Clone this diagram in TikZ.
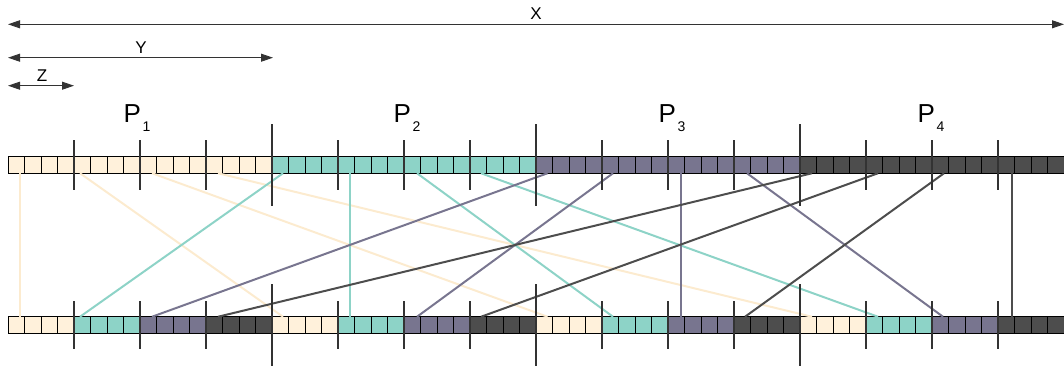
\documentclass[tikz,border=0pt]{standalone}
\usepackage{fontspec}
\setmainfont{Liberation Sans}
\usetikzlibrary{arrows.meta,calc}
\definecolor{c0}{HTML}{FFF1DB}
\definecolor{c1}{HTML}{8DD3C7}
\definecolor{c2}{HTML}{78758F}
\definecolor{c3}{HTML}{4D4D4D}
\definecolor{l0}{HTML}{FCEBCF}
\definecolor{l1}{HTML}{8DD3C7}
\definecolor{l2}{HTML}{78758F}
\definecolor{l3}{HTML}{4D4D4D}
\definecolor{tickcol}{HTML}{333333}
\begin{document}
\begin{tikzpicture}[x=1pt,y=-1pt,
  cell/.style={draw=black, line width=0.8pt, minimum width=16.5pt, minimum height=16.5pt, inner sep=0pt, outer sep=0pt},
  dim/.style={line width=0.9pt, draw=tickcol, {Triangle[length=12pt,width=8pt]}-{Triangle[length=12pt,width=8pt]}},
  dimlabel/.style={font=\fontsize{17}{20}\selectfont, inner sep=0pt, anchor=base},
  plabel/.style={font=\fontsize{26}{30}\selectfont, inner sep=0pt, anchor=base west},
  conn/.style={line width=2pt},
  tickmark/.style={line width=1.1pt, draw=tickcol}]
\useasboundingbox (0,0) rectangle (1064,367);

% dimension arrows
\coordinate (xs) at (8,24.3);
\coordinate (xe) at (1064,24.3);
\coordinate (ys) at (8,57.7);
\coordinate (ye) at (273,57.7);
\coordinate (zs) at (8,85.7);
\coordinate (ze) at (74,85.7);
\draw[dim] (xs) -- (xe);
\draw[dim] (ys) -- (ye);
\draw[dim] (zs) -- (ze);
\node[dimlabel] (lx) at (536,19) {X};
\node[dimlabel] (ly) at (141,53.5) {Y};
\node[dimlabel] (lz) at (42,81) {Z};

% partition labels
\newcommand{\psub}[1]{\raisebox{-9pt}{\fontsize{14}{16}\selectfont\hspace{1.5pt}#1}}
\node[plabel] (p1) at (123.5,122) {P\psub{1}};
\node[plabel] (p2) at (393.5,122) {P\psub{2}};
\node[plabel] (p3) at (658.5,122) {P\psub{3}};
\node[plabel] (p4) at (917.5,122) {P\psub{4}};

% cells
\foreach \i in {0,...,63}{
  \pgfmathtruncatemacro{\tp}{div(\i,16)}
  \pgfmathtruncatemacro{\bp}{mod(div(\i,4),4)}
  \node[cell, fill=c\tp] (t\i) at ({8+16.5*(\i+0.5)},165) {};
  \node[cell, fill=c\bp] (b\i) at ({8+16.5*(\i+0.5)},325) {};
}

% connectors
\foreach \a/\b/\c/\dt/\db in {
  0/0/0/3.75/3.75, 4/16/0/-2.25/2.75, 8/32/0/3.75/3.25, 12/48/0/3.75/3.75,
  16/4/1/2.75/-2.25, 20/20/1/3.75/3.75, 24/36/1/4.75/2.75, 28/52/1/2.75/3.75,
  32/8/2/3.25/3.75, 36/24/2/2.75/4.75, 40/40/2/4.75/4.75, 44/56/2/4.75/2.75,
  48/12/3/3.75/3.75, 52/28/3/3.75/2.75, 56/44/3/3.75/2.75, 60/60/3/5.75/5.75}{
  \draw[conn, draw=l\c] ([xshift=\dt pt]t\a.south) -- ([xshift=\db pt]b\b.north);
}

% tick marks
\foreach \k in {4,8,12,20,24,28,36,40,44,52,56,60}{
  \draw[tickmark] ($(t\k.west)+(0,-25)$) -- ($(t\k.west)+(0,25)$);
  \draw[tickmark] ($(b\k.west)+(0,-24)$) -- ($(b\k.west)+(0,24)$);
}
\foreach \k in {16,32,48}{
  \draw[tickmark] ($(t\k.west)+(0,-41)$) -- ($(t\k.west)+(0,41)$);
  \draw[tickmark] ($(b\k.west)+(0,-41)$) -- ($(b\k.west)+(0,41)$);
}
\end{tikzpicture}
\end{document}
